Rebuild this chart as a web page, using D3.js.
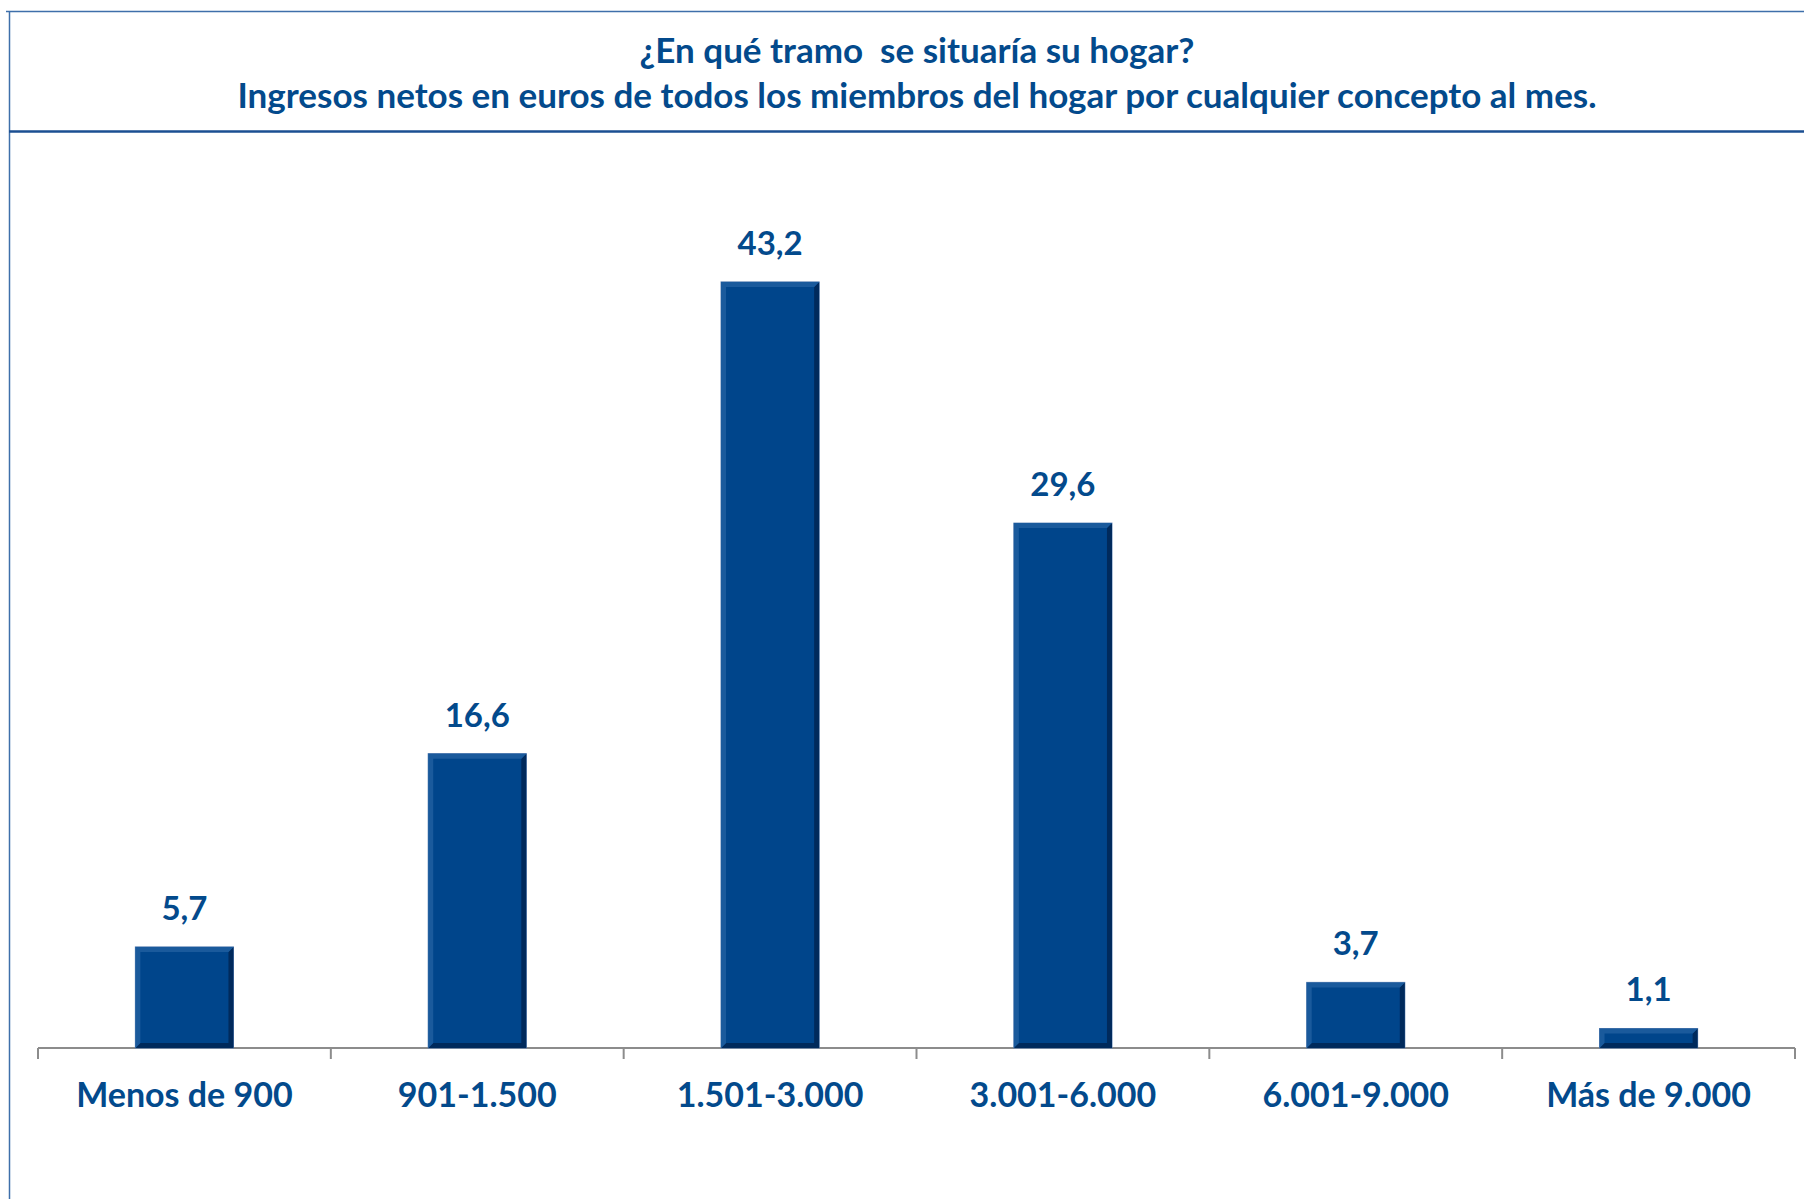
<!DOCTYPE html>
<html>
<head>
<meta charset="utf-8">
<script src="https://cdnjs.cloudflare.com/ajax/libs/d3/7.8.5/d3.min.js"></script>
<style>
  body { margin: 0; background: #fff; }
  svg { display: block; }
  text { font-family: Lato, "Open Sans", sans-serif; font-weight: bold; fill: #034a8c; }
</style>
</head>
<body>
<div id="content"></div>
<script>
// chart data
var categories = ['Menos de 900', '901-1.500', '1.501-3.000', '3.001-6.000', '6.001-9.000', 'Más de 9.000'],
    values = [5.7, 16.6, 43.2, 29.6, 3.7, 1.1],
    valueLabels = ['5,7', '16,6', '43,2', '29,6', '3,7', '1,1'],
    titleLines = ['¿En qué tramo\u00a0 se situaría su hogar?',
                  'Ingresos netos en euros de todos los miembros del hogar por cualquier concepto al mes.'];

var width = 1804,
    height = 1199,
    plotLeft = 38,
    plotRight = 1795,
    baseY = 1048,

    svg = d3.select('#content').append('svg')
        .attr('width', width)
        .attr('height', height),

    xScale = d3.scaleBand()
        .domain(categories)
        .range([plotLeft, plotRight])
        .paddingInner(0.665)
        .paddingOuter(0.3325),
    yScale = d3.scaleLinear()
        .domain([0, 45])
        .range([baseY, 250]);

// frame lines
svg.append('line')
    .attr('x1', 6).attr('x2', width)
    .attr('y1', 11.5).attr('y2', 11.5)
    .attr('stroke', '#3e6faa').attr('stroke-width', 1.5);
svg.append('line')
    .attr('x1', 9.5).attr('x2', 9.5)
    .attr('y1', 11).attr('y2', height)
    .attr('stroke', '#3e6faa').attr('stroke-width', 1.5);
svg.append('line')
    .attr('x1', 9).attr('x2', width)
    .attr('y1', 131.5).attr('y2', 131.5)
    .attr('stroke', '#1b4f92').attr('stroke-width', 2.5);

// title
svg.selectAll('text.title')
    .data(titleLines)
    .enter()
    .append('text')
    .attr('class', 'title')
    .attr('x', 917)
    .attr('y', function(d, i){ return 63 + i * 45; })
    .attr('text-anchor', 'middle')
    .style('font-size', '35px')
    .text(function(d){ return d; });

// x axis (ticks between categories)
var axisG = svg.append('g')
    .attr('transform', 'translate(0,' + baseY + ')');
axisG.append('line')
    .attr('x1', plotLeft).attr('x2', plotRight)
    .attr('stroke', '#8c8c8c').attr('stroke-width', 2);
var step = xScale.step();
axisG.selectAll('line.tick')
    .data(d3.range(categories.length + 1))
    .enter()
    .append('line')
    .attr('class', 'tick')
    .attr('x1', function(i){ return plotLeft + i * step; })
    .attr('x2', function(i){ return plotLeft + i * step; })
    .attr('y1', 0).attr('y2', 11)
    .attr('stroke', '#8c8c8c').attr('stroke-width', 2);

// bars with bevel
var barG = svg.selectAll('g.bar')
    .data(values)
    .enter()
    .append('g')
    .attr('class', 'bar');

barG.append('rect')
    .attr('x', function(d, i){ return xScale(categories[i]); })
    .attr('y', function(d){ return yScale(d); })
    .attr('width', xScale.bandwidth())
    .attr('height', function(d){ return baseY - yScale(d); })
    .attr('fill', '#00458b')
    .attr('stroke', '#5b80b3')
    .attr('stroke-width', 1);

// dark right/bottom inner edge
barG.append('path')
    .attr('d', function(d, i){
        var x0 = xScale(categories[i]), x1 = x0 + xScale.bandwidth(),
            y0 = yScale(d), y1 = baseY, b = Math.min(5, (y1 - y0) / 3);
        return 'M' + x1 + ',' + y0 + 'L' + x1 + ',' + y1 + 'L' + x0 + ',' + y1 +
               'L' + (x0 + b) + ',' + (y1 - b) + 'L' + (x1 - b) + ',' + (y1 - b) +
               'L' + (x1 - b) + ',' + (y0 + b) + 'Z';
    })
    .attr('fill', '#002a5c');

// light top/left inner edge
barG.append('path')
    .attr('d', function(d, i){
        var x0 = xScale(categories[i]), x1 = x0 + xScale.bandwidth(),
            y0 = yScale(d), y1 = baseY, b = Math.min(5, (y1 - y0) / 3);
        return 'M' + x0 + ',' + y1 + 'L' + x0 + ',' + y0 + 'L' + x1 + ',' + y0 +
               'L' + (x1 - b) + ',' + (y0 + b) + 'L' + (x0 + b) + ',' + (y0 + b) +
               'L' + (x0 + b) + ',' + (y1 - b) + 'Z';
    })
    .attr('fill', '#1a5a9c');

// value labels
barG.append('text')
    .attr('x', function(d, i){ return xScale(categories[i]) + xScale.bandwidth() / 2; })
    .attr('y', function(d){ return yScale(d) - 27; })
    .attr('text-anchor', 'middle')
    .style('font-size', '33px')
    .text(function(d, i){ return valueLabels[i]; });

// category labels
svg.selectAll('text.cat')
    .data(categories)
    .enter()
    .append('text')
    .attr('class', 'cat')
    .attr('x', function(d){ return xScale(d) + xScale.bandwidth() / 2; })
    .attr('y', 1107)
    .attr('text-anchor', 'middle')
    .style('font-size', '34px')
    .text(function(d){ return d; });
</script>
</body>
</html>
